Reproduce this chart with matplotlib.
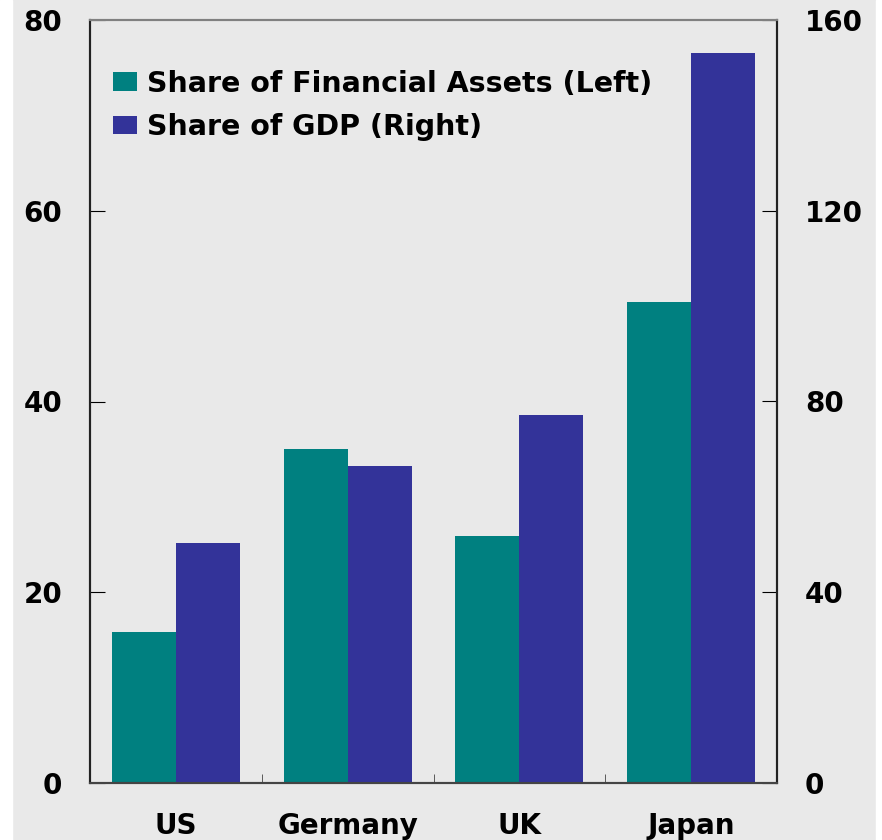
import matplotlib.pyplot as plt
import matplotlib.patches as mpatches
import numpy as np

plt.rcParams['font.family'] = ['DejaVu Sans']
plt.rcParams['font.weight'] = 'bold'

# 数据
countries = ["US", "Germany", "UK", "Japan"]
share_assets = [15.8, 35.0, 25.9, 50.4]     # 左轴
share_gdp = [50.4, 66.5, 77.2, 153.0]       # 右轴

teal = "#008080"
navy = "#333399"
bg = "#E9E9E9"

fig = plt.figure(figsize=(8.82, 8.4), dpi=100, facecolor=bg)
# 两边的白色窄条
fig.patches.append(mpatches.Rectangle((0, 0), 12 / 882, 1, transform=fig.transFigure,
                                      color='white', zorder=-10))
fig.patches.append(mpatches.Rectangle((876 / 882, 0), 6 / 882, 1, transform=fig.transFigure,
                                      color='white', zorder=-10))

ax = fig.add_axes([90 / 882, 1 - 783 / 840, 687 / 882, 763 / 840])
ax.set_facecolor(bg)
ax2 = ax.twinx()

x = np.arange(len(countries))
w = 0.373
b1 = ax.bar(x - w / 2, share_assets, w, color=teal)
b2 = ax2.bar(x + w / 2, share_gdp, w, color=navy)

ax.set_xlim(-0.5, 3.5)
ax.set_ylim(0, 80)
ax2.set_ylim(0, 160)
ax.set_yticks([0, 20, 40, 60, 80])
ax2.set_yticks([0, 40, 80, 120, 160])

ax.set_xticks(x)
ax.set_xticklabels(countries)
ax.set_xticks([0.5, 1.5, 2.5], minor=True)
ax.tick_params(axis='x', which='major', length=0, pad=21, labelsize=20)
ax.tick_params(axis='x', which='minor', direction='in', length=6.5, color='#444444')
ax.tick_params(axis='y', direction='in', length=11, pad=20, labelsize=20)
ax2.tick_params(axis='y', direction='in', length=11, pad=20, labelsize=20)

for a in (ax, ax2):
    a.spines['top'].set_color('#808080')
    a.spines['left'].set_color('#222222')
    a.spines['right'].set_color('#222222')
    a.spines['bottom'].set_color('#444444')
    for s in a.spines.values():
        s.set_linewidth(1.5)

ax.legend([b1, b2], ["Share of Financial Assets (Left)", "Share of GDP (Right)"],
          loc='upper left', bbox_to_anchor=(0.017, 0.95), borderaxespad=0,
          frameon=False, fontsize=20.5, handlelength=0.84, handleheight=0.6,
          handletextpad=0.36, labelspacing=0.55)

plt.savefig("out.png", dpi=100, facecolor=bg)
